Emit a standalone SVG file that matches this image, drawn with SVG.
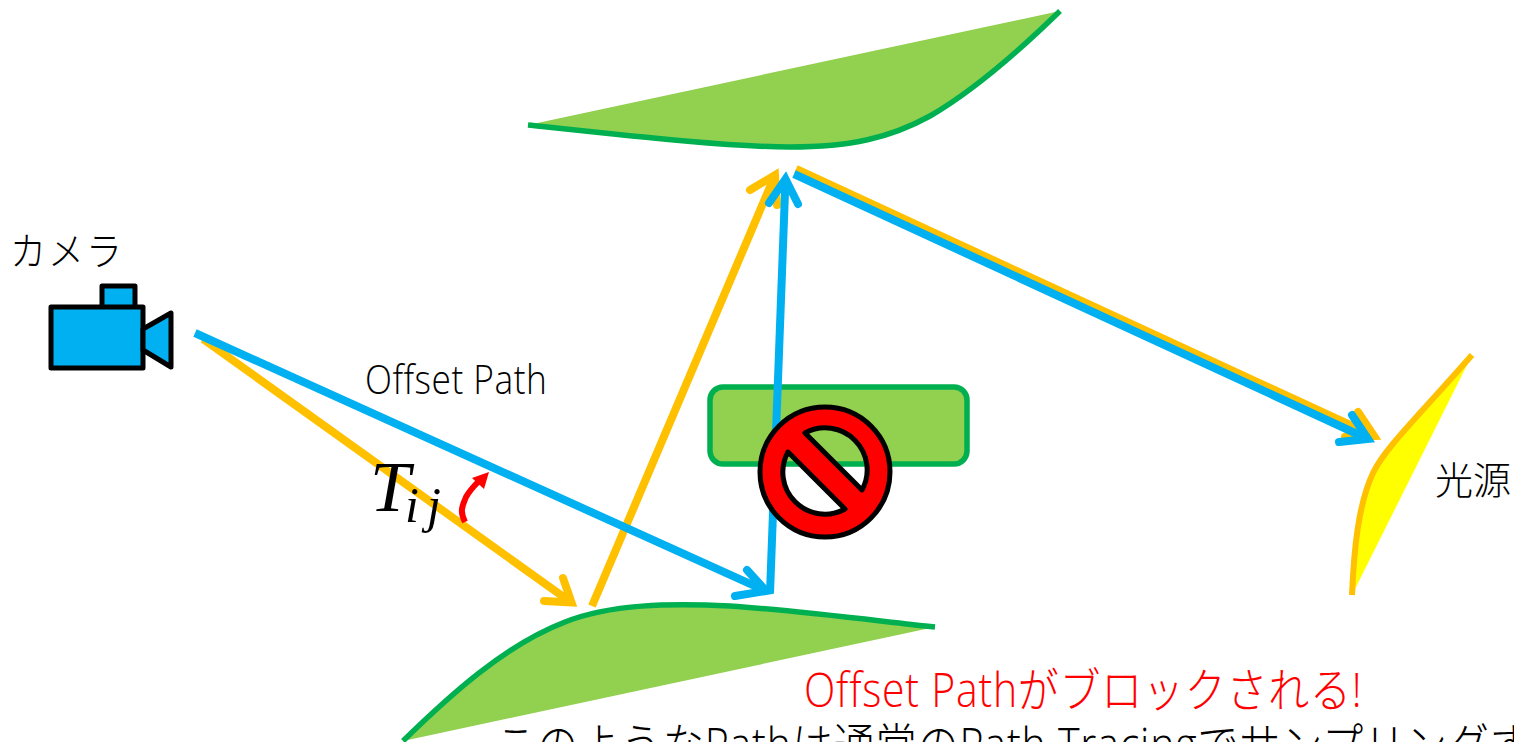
<svg xmlns="http://www.w3.org/2000/svg" width="1514" height="742" viewBox="0 0 1514 742">
<defs><style>
.t{font-family:"Open Sans","Noto Sans CJK JP",sans-serif;font-weight:300;fill:#000}
.f{fill:#92d050;stroke:none}
.l{fill:none;stroke:#00b050;stroke-width:5.500}
.g{fill:#92d050;stroke:#00b050;stroke-width:5.500}
.o{fill:none;stroke:#ffc000;stroke-width:8}
.b{fill:none;stroke:#00b0f0;stroke-width:8}
.cap{stroke-linecap:round;stroke-linejoin:miter}
</style></defs>
<rect width="1514" height="742" fill="#fff"/>
<g id="surface-top"><path class="f" d="M528 125C640 137 730 147 790 147C850 147 890 138 930 116C975 90 1020 50 1060 11Z"/><path class="l" d="M528 125C640 137 730 147 790 147C850 147 890 138 930 116C975 90 1020 50 1060 11"/></g>
<g id="surface-bottom"><path class="f" d="M403 741C450 695 505 645 565 622C610 604 670 603 730 606C800 611 870 620 935 627Z"/><path class="l" d="M403 741C450 695 505 645 565 622C610 604 670 603 730 606C800 611 870 620 935 627"/></g>
<g id="obstacle"><rect class="g" x="710" y="387" width="257" height="77" rx="13"/></g>
<g id="light"><path id="light-shape" d="M1352 595C1354 550 1358 505 1373 473C1385 448 1415 420 1472 355Z" fill="#ff0"/><path d="M1352 595C1354 550 1358 505 1373 473C1385 448 1415 420 1472 355" fill="none" stroke="#ffc000" stroke-width="6"/></g>
<g id="connectors">
<path class="o" d="M203 339L572 603"/><path class="o cap" d="M563 578L571.500 602.400L544 601"/>
<path class="o" d="M592 606L775 175"/><path class="o cap" d="M750 190L775 175L777 205"/>
<path class="o" d="M796 169L1374 436"/><path class="o cap" d="M1358 412L1374 436L1345 437"/>
<path class="b" d="M195 333L766 591"/><path class="b cap" d="M747 570L766 591L735 596"/>
<path class="b" d="M770 593L785.500 179"/><path class="b cap" d="M769 203L785.500 179L798 204"/>
<path class="b" d="M794 174L1368 439"/><path class="b cap" d="M1352 415L1368 439L1339 442"/>
<path d="M465 522C459 510 463 505 466 497C470 490 474 486 478 482" fill="none" stroke="#f00" stroke-width="6"/>
<path d="M489 472L484 489L472 478Z" fill="#f00"/>
</g>
<g id="camera" fill="#00b0f0" stroke="#000" stroke-width="5" stroke-linejoin="round">
<rect x="102" y="286" width="33" height="24"/>
<rect x="51" y="307" width="92" height="61"/>
<path d="M143 329L171 313V367L143 350Z"/>
</g>
<g id="no-sign"><path fill-rule="evenodd" d="M825 407A65 65 0 1 0 825 537A65 65 0 1 0 825 407ZM805 433A42 42 0 0 1 862 490ZM788 452L845 509A42 42 0 0 1 788 452Z" fill="#f00" stroke="#000" stroke-width="5" stroke-linejoin="round"/></g>
<g id="labels">
<text class="t" transform="translate(10 265) scale(1 1.08)" font-size="36" letter-spacing="2">カメラ</text>
<text class="t" transform="translate(365 394) scale(.98 1.1)" font-size="36" letter-spacing="0.500">Offset Path</text>
<text font-style="italic" font-family="'Liberation Serif',serif"><tspan x="370" y="511" font-size="72">T</tspan><tspan x="405" y="522" font-size="50">i</tspan><tspan x="427" y="522" font-size="50">j</tspan></text>
<text class="t" transform="translate(1435 494)" font-size="38">光源</text>
<text class="t" transform="translate(804 707) scale(.975 1.12)" font-size="42" style="fill:#f00" letter-spacing="0.800">Offset Pathがブロックされる!</text>
<text class="t" transform="translate(495 762) scale(.98 1.12)" font-size="42" letter-spacing="0.800">このようなPathは通常のPath Tracingでサンプリングす</text>
</g>
</svg>
